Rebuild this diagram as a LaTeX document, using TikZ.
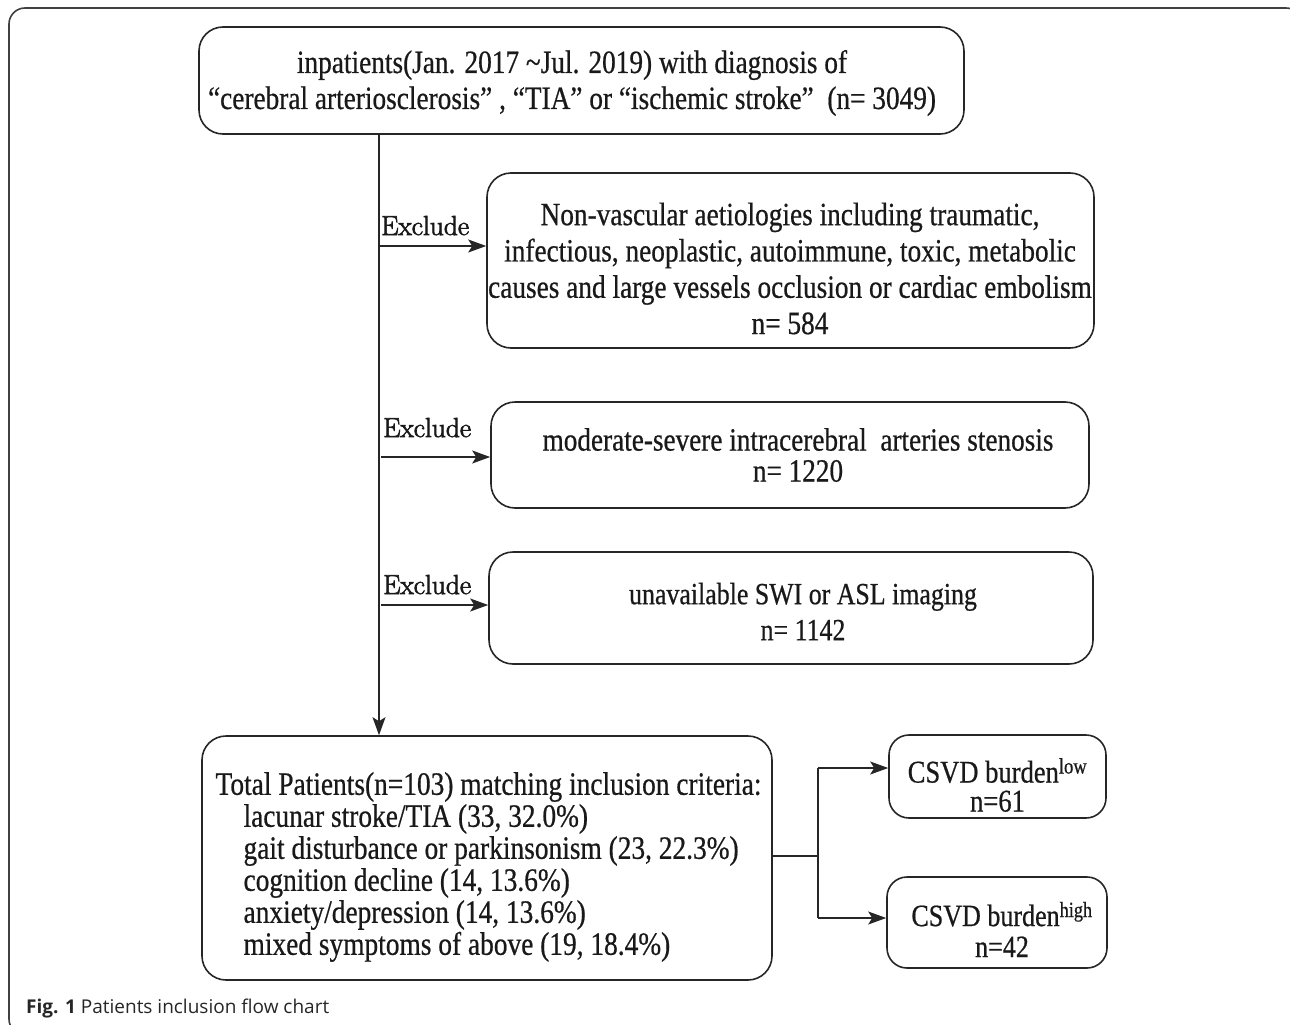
\documentclass[tikz,border=0pt]{standalone}
\usepackage{fontspec}
\newfontfamily\tnr[FakeStretch=0.84,FakeBold=0.6]{Liberation Serif}
\newfontfamily\exfont[FakeBold=2.5]{Latin Modern Roman}
\newfontfamily\capsans{Open Sans}
\usetikzlibrary{arrows.meta}
\begin{document}
\begin{tikzpicture}[x=1pt,y=-1pt,
  box/.style={draw=black!85, line width=1.6pt, rounded corners=24pt, inner sep=0pt},
  txt/.style={align=center, inner sep=0pt, text=black!90},
  conn/.style={line width=1.4pt, draw=black!85},
  arr/.style={conn,-{Stealth[length=18pt,width=13pt,inset=4pt]}},
  exl/.style={font=\exfont\fontsize{27.5}{30}\selectfont, inner sep=0pt, anchor=base west, text=black!90}
]
\useasboundingbox (0,0) rectangle (1290,1025);
\draw[line width=1.6pt, draw=black!75, rounded corners=16pt] (9,8) rectangle (1302,1035);

% boxes
\node[box, minimum width=765pt, minimum height=107pt] (top) at (581.5,80.5) {};
\node[box, minimum width=607pt, minimum height=175pt] (b2) at (790.5,260.5) {};
\node[box, minimum width=598pt, minimum height=106pt] (b3) at (790,455) {};
\node[box, minimum width=604pt, minimum height=112pt] (b4) at (791,608) {};
\node[box, minimum width=570pt, minimum height=244pt] (bot) at (487,858) {};
\node[box, rounded corners=20pt, minimum width=217pt, minimum height=83pt] (low) at (997.5,776.5) {};
\node[box, rounded corners=20pt, minimum width=220pt, minimum height=91pt] (high) at (997,922.5) {};

% texts
\node[txt, font=\tnr\fontsize{32.5}{36}\selectfont] (topt) at (572,83)
  {inpatients(Jan. 2017 \textasciitilde Jul. 2019) with diagnosis of\\
   “cerebral arteriosclerosis” , “TIA” or “ischemic stroke”~ (n= 3049)};
\node[txt, font=\tnr\fontsize{32.5}{36.3}\selectfont] (b2t) at (790,268.5)
  {Non-vascular aetiologies including traumatic,\\
   infectious, neoplastic, autoimmune, toxic, metabolic\\
   causes and large vessels occlusion or cardiac embolism\\
   n= 584};
\node[txt, font=\tnr\fontsize{32.4}{31}\selectfont] (b3t) at (798,455)
  {moderate-severe intracerebral~ arteries stenosis\\ n= 1220};
\node[txt, font=\tnr\fontsize{30.8}{36}\selectfont] (b4t) at (803,611.5)
  {unavailable SWI or ASL imaging\\ n= 1142};
\node[txt, align=left, font=\tnr\fontsize{32.6}{32}\selectfont] (bott) at (488.5,867)
  {Total Patients(n=103) matching inclusion criteria:\\
   \hspace*{28pt}lacunar stroke/TIA (33, 32.0\%)\\
   \hspace*{28pt}gait disturbance or parkinsonism (23, 22.3\%)\\
   \hspace*{28pt}cognition decline (14, 13.6\%)\\
   \hspace*{28pt}anxiety/depression (14, 13.6\%)\\
   \hspace*{28pt}mixed symptoms of above (19, 18.4\%)};
\node[txt, font=\tnr\fontsize{31.6}{29}\selectfont] (lowt) at (997.5,785)
  {CSVD burden\textsuperscript{low}\\ n=61};
\node[txt, font=\tnr\fontsize{31}{31}\selectfont] (hight) at (1002,929.5)
  {CSVD burden\textsuperscript{high}\\ n=42};

% trunk
\coordinate (tx) at (379,0);
\draw[arr] (top.south -| tx) -- (bot.north -| tx);

% exclusions
\coordinate (e1) at (379,246);
\coordinate (e2) at (381,457);
\coordinate (e3) at (381,605);
\draw[arr] (e1) -- (e1 -| b2.west);
\draw[arr] (e2) -- (e2 -| b3.west);
\draw[arr] (e3) -- (e3 -| b4.west);
\node[exl] (x1) at (381,235) {Exclude};
\node[exl] (x2) at (383,437) {Exclude};
\node[exl] (x3) at (383,594) {Exclude};

% split
\coordinate (j) at (818,856);
\coordinate (jt) at (818,768);
\coordinate (jb) at (818,918);
\draw[conn] (bot.east |- j) -- (j);
\draw[conn] (jt) -- (jb);
\draw[arr] (jt) -- (jt -| low.west);
\draw[arr] (jb) -- (jb -| high.west);

\node[anchor=base west, inner sep=0pt, text=black!85, font=\capsans\fontsize{19}{22}\selectfont] (cap) at (26,1013)
  {\textbf{Fig. 1} Patients inclusion flow chart};
\end{tikzpicture}
\end{document}
